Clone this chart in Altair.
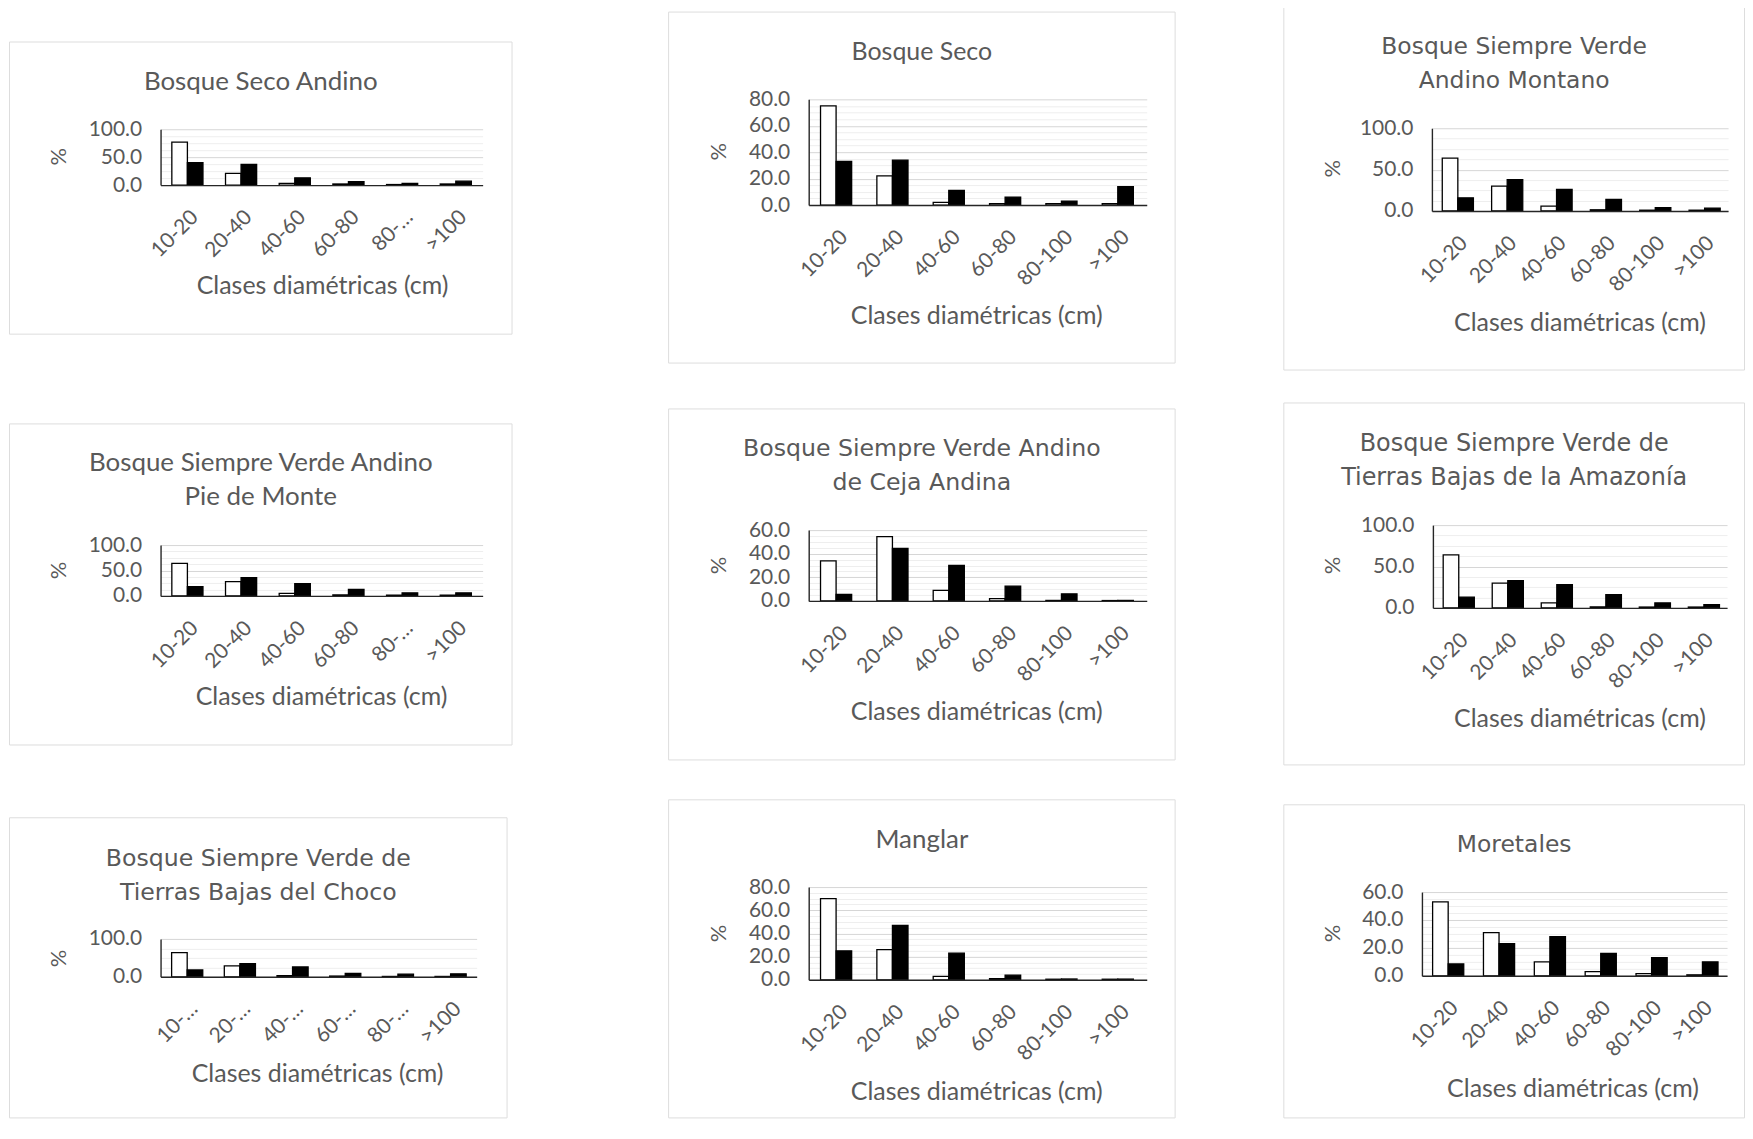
import altair as alt
import pandas as pd

# ---------------- data ----------------
clases = ["10-20", "20-40", "40-60", "60-80", "80-100", ">100"]
series = ["Serie 1", "Serie 2"]

titulo_bsa = ["Bosque Seco Andino"]
blanco_bsa = [77, 21, 3, 2, 1, 2]
negro_bsa = [40, 37, 13, 6, 3, 7]

titulo_bs = ["Bosque Seco"]
blanco_bs = [75, 22, 2, 1, 1, 1]
negro_bs = [33, 34, 11, 6, 3, 14]

titulo_bsvam = ["Bosque Siempre Verde", "Andino Montano"]
blanco_bsvam = [64, 30, 6, 1.5, 1, 1]
negro_bsvam = [16, 38, 26, 14, 4, 3.5]

titulo_bsvap = ["Bosque Siempre Verde Andino", "Pie de Monte"]
blanco_bsvap = [64, 28, 5, 2, 1.5, 1.5]
negro_bsvap = [18, 36, 24, 13, 6, 6]

titulo_bsvac = ["Bosque Siempre Verde Andino", "de Ceja Andina"]
blanco_bsvac = [34, 54.5, 9, 2, 0.4, 0.3]
negro_bsvac = [5.5, 44.5, 30, 12.5, 6, 0.4]

titulo_bsvta = ["Bosque Siempre Verde de", "Tierras Bajas de la Amazonía"]
blanco_bsvta = [64, 30, 6, 1.2, 1, 1]
negro_bsvta = [13, 33, 28, 16, 6, 4]

titulo_bsvtc = ["Bosque Siempre Verde de", "Tierras Bajas del Choco"]
blanco_bsvtc = [64, 29, 3, 2, 1, 1]
negro_bsvtc = [18, 35, 26, 9, 7, 8]

titulo_man = ["Manglar"]
blanco_man = [70, 26, 3, 1, 0.5, 0.5]
negro_man = [25, 47, 23, 4, 0.7, 0.6]

titulo_mor = ["Moretales"]
blanco_mor = [53, 31, 10, 3, 1.5, 0.7]
negro_mor = [8.5, 23, 28, 16, 13, 10]

# major tick values and the spacing of the faint minor gridlines
ticks_100 = [0, 50, 100]
ticks_80 = [0, 20, 40, 60, 80]
ticks_60 = [0, 20, 40, 60]
ticks_100b = [0, 100]

eje_x = "Clases diamétricas (cm)"
eje_y = "%"

# ---------------- style ----------------
FONT = "Lato"
WIDE = "DejaVu Sans"
GREY = "#595959"
TRUNC_80 = "datum.label == '80-100' ? '80-\u2026' : datum.label"
TRUNC_ALL = "datum.label == '>100' ? datum.label : slice(datum.label, 0, 3) + '\u2026'"


def panel(titulo, blanco, negro, ticks, w, h, xr, yr, title_y, xt, pct,
          tfont, tsize, label_expr=None):
    df = pd.DataFrame({
        "clase": clases * 2,
        "serie": [series[0]] * len(clases) + [series[1]] * len(clases),
        "valor": list(blanco) + list(negro),
    })
    step = (ticks[1] - ticks[0]) / 4.0
    n_minor = int(round((ticks[-1] - ticks[0]) / step))
    grid_vals = [ticks[0] + i * step for i in range(n_minor + 1)]
    major_js = "[" + ",".join(str(t) for t in ticks) + "]"
    is_major = "indexof(" + major_js + ", datum.value) >= 0"

    xaxis = dict(
        title=eje_x, labelAngle=-45, labelAlign="right", labelBaseline="top",
        labelPadding=21, labelFont=FONT, labelFontSize=21, labelColor=GREY,
        ticks=False, domainColor="#262626", domainWidth=1.4,
        offset=yr[0] - h, titleX=xt[0], titleY=xt[1] - yr[0],
        titleAlign="center", titleBaseline="middle", titleFont=FONT,
        titleFontSize=25, titleFontWeight="normal", titleColor=GREY,
        labelOverlap=False, zindex=2,
    )
    if label_expr:
        xaxis["labelExpr"] = label_expr
    yaxis = alt.Axis(
        values=grid_vals, format=".1f", labelExpr=is_major + " ? datum.label : ''",
        title=eje_y, offset=-xr[0], ticks=False,
        grid=True, gridWidth=1,
        gridColor={"condition": {"test": is_major, "value": "#d6d6d6"}, "value": "#eeeeee"},
        domainColor="#262626", domainWidth=1.4, labelOverlap=False,
        labelFont=FONT, labelFontSize=21, labelColor=GREY, labelPadding=19,
        titleFont=FONT, titleFontSize=22, titleFontWeight="normal", titleColor=GREY,
        titleAngle=270, titleX=pct[0] - xr[0], titleY=pct[1],
        titleAlign="center", titleBaseline="middle",
    )
    bars = alt.Chart(df).mark_bar(stroke="black", strokeWidth=1.3).encode(
        x=alt.X("clase:N", sort=clases,
                scale=alt.Scale(range=list(xr), paddingInner=0.42, paddingOuter=0.21),
                axis=alt.Axis(**xaxis)),
        xOffset=alt.XOffset("serie:N", sort=series),
        y=alt.Y("valor:Q",
                scale=alt.Scale(domain=[ticks[0], ticks[-1]], range=list(yr), nice=False),
                axis=yaxis),
        fill=alt.Fill("serie:N", scale=alt.Scale(domain=series, range=["white", "black"]),
                      legend=None),
    )
    # chart title, carried by a top axis whose only visible part is its title
    heading = alt.Chart(df).transform_filter("false").mark_point().encode(
        x=alt.X("clase:N", sort=clases,
                axis=alt.Axis(orient="top", title=titulo, labels=False, ticks=False,
                              domain=False, grid=False, offset=0, minExtent=0, maxExtent=0,
                              titleX=w / 2, titleY=title_y, titleAlign="center",
                              titleBaseline="middle", titleFont=tfont, titleFontSize=tsize,
                              titleFontWeight="normal", titleColor=GREY,
                              titleLineHeight=34)),
    )
    return alt.layer(bars, heading).resolve_axis(x="independent").properties(
        width=w, height=h)


def spacer(w, h):
    return alt.Chart(pd.DataFrame({"v": [0]})).transform_filter("false").mark_point().encode(
        x=alt.X("v:Q", axis=None), y=alt.Y("v:Q", axis=None)
    ).properties(width=w, height=h, view=alt.ViewBackground(strokeOpacity=0))


p1 = panel(titulo_bsa, blanco_bsa, negro_bsa, ticks_100, 504, 293, (152, 475), (144, 88),
           40, (314, 245), (50, 115), FONT, 26, TRUNC_80)
p4 = panel(titulo_bsvap, blanco_bsvap, negro_bsvap, ticks_100, 504, 322, (152, 475), (173, 122),
           39, (313, 274), (50, 147), FONT, 26, TRUNC_80)
p7 = panel(titulo_bsvtc, blanco_bsvtc, negro_bsvtc, ticks_100b, 499, 301, (152, 469), (160, 122),
           41, (309, 257), (50, 141), WIDE, 23.7, TRUNC_ALL)

p2 = panel(titulo_bs, blanco_bs, negro_bs, ticks_80, 508, 352, (141, 480), (194, 88),
           40, (309, 305), (51, 140), FONT, 25)
p5 = panel(titulo_bsvac, blanco_bsvac, negro_bsvac, ticks_60, 508, 352, (141, 480), (193, 122),
           40, (309, 304), (51, 157), WIDE, 23.7)
p8 = panel(titulo_man, blanco_man, negro_man, ticks_80, 508, 319, (141, 480), (181, 88),
           40, (309, 293), (51, 134), FONT, 26)

p3 = panel(titulo_bsvam, blanco_bsvam, negro_bsvam, ticks_100, 462, 364, (149, 446), (205, 122),
           40, (297, 317), (49, 162), WIDE, 23.5)
p6 = panel(titulo_bsvta, blanco_bsvta, negro_bsvta, ticks_100, 462, 363, (150, 445), (206, 123),
           41, (297, 317), (49, 163), WIDE, 24)
p9 = panel(titulo_mor, blanco_mor, negro_mor, ticks_60, 462, 314, (139, 445), (172, 88),
           40, (290, 285), (49, 129), WIDE, 23.5)

col1 = alt.vconcat(spacer(10, 35), p1, spacer(10, 90), p4, spacer(10, 73), p7,
                   spacing=0, bounds="flush")
col2 = alt.vconcat(spacer(10, 5), p2, spacer(10, 46), p5, spacer(10, 40), p8,
                   spacing=0, bounds="flush")
col3 = alt.vconcat(p3, spacer(10, 33), p6, spacer(10, 40), p9,
                   spacing=0, bounds="flush")

chart = alt.hconcat(col1, spacer(155, 1), col2, spacer(107, 1), col3,
                    spacing=0).properties(
    padding={"top": -4, "left": 0, "right": 0, "bottom": 0}
).configure_view(
    stroke="#d0d0d0", strokeWidth=1.5
).configure(font=FONT)

chart.save("out.html", embed_options={"renderer": "svg", "actions": False})
